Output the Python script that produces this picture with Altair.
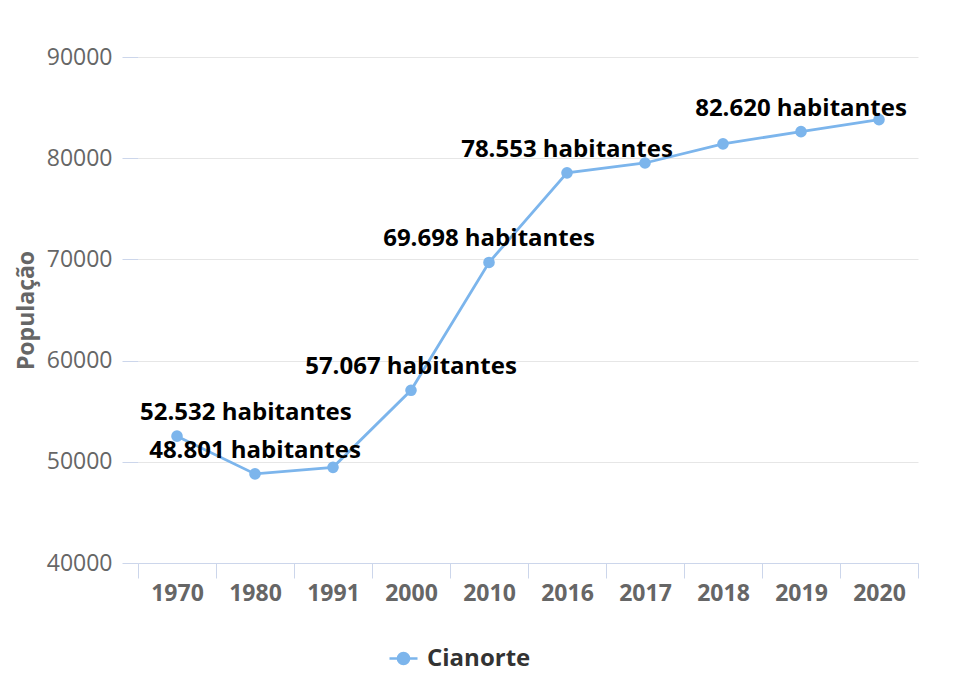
import altair as alt
import pandas as pd

years = ["1970", "1980", "1991", "2000", "2010", "2016", "2017", "2018", "2019", "2020"]
population = [52532, 48801, 49450, 57067, 69698, 78553, 79527, 81421, 82620, 83816]
labels = ["52.532 habitantes", "48.801 habitantes", "", "57.067 habitantes", "69.698 habitantes",
          "78.553 habitantes", "", "", "82.620 habitantes", ""]
series = "Cianorte"

df = pd.DataFrame({"year": years, "pop": population, "label": labels, "series": series})

BLUE = "#7cb5ec"
FONT = "Open Sans"

x_enc = alt.X(
    "year:N", sort=years, title=None,
    scale=alt.Scale(type="band", paddingInner=0, paddingOuter=0),
    axis=alt.Axis(tickBand="extent", domainColor="#ccd6eb", tickColor="#ccd6eb", tickSize=15,
                  labelPadding=4, labelFont=FONT, labelFontSize=23, labelFontWeight="bold",
                  labelColor="#666666", labelAngle=0, grid=False),
)
y_enc = alt.Y(
    "pop:Q", title="População",
    scale=alt.Scale(domain=[40000, 90000], nice=False, zero=False),
    axis=alt.Axis(values=[40000, 50000, 60000, 70000, 80000, 90000], format="d", domain=False,
                  tickColor="#ccd6eb", tickSize=16, labelPadding=10, labelFont=FONT,
                  labelFontSize=23, labelColor="#666666", gridColor="#e6e6e6",
                  titleFont=FONT, titleFontSize=23, titleFontWeight="bold", titleColor="#666666",
                  titlePadding=8),
)

legend_path = "M-1,0L1,0M-0.4,0A0.4,0.4,0,1,1,0.4,0A0.4,0.4,0,1,1,-0.4,0Z"

base = alt.Chart(df)

line = base.mark_line(strokeWidth=2.8).encode(
    x=x_enc, y=y_enc,
    color=alt.Color("series:N", scale=alt.Scale(range=[BLUE]), title=None,
                    legend=alt.Legend(orient="none", legendX=250, legendY=586, direction="horizontal",
                                      symbolType=legend_path, symbolSize=784, symbolStrokeWidth=2.5,
                                      symbolFillColor=BLUE, symbolStrokeColor=BLUE,
                                      labelFont=FONT, labelFontSize=24, labelFontWeight="bold",
                                      labelColor="#333333", labelOffset=8)),
)
points = base.mark_circle(size=135, opacity=1, color=BLUE).encode(x=x_enc, y=y_enc)

text_main = base.transform_filter(
    (alt.datum.label != "") & (alt.datum.year != "1970")
).mark_text(font=FONT, fontSize=24, fontWeight="bold", color="#000000", dy=-23,
            baseline="middle", align="center").encode(x=x_enc, y=y_enc, text="label:N")

text_first = base.transform_filter(alt.datum.year == "1970").mark_text(
    font=FONT, fontSize=24, fontWeight="bold", color="#000000", dy=-23, dx=2,
    baseline="middle", align="left"
).encode(
    x=alt.X("year:N", sort=years, bandPosition=0, scale=alt.Scale(type="band", paddingInner=0, paddingOuter=0)),
    y=y_enc, text="label:N")

chart = alt.layer(line, points, text_main, text_first).properties(
    width=780, height=506,
    autosize=alt.AutoSizeParams(type="none"),
    padding={"left": 130, "top": 49, "right": 50, "bottom": 110},
).configure_view(stroke=None)

chart.save("out.html", embed_options={"renderer": "svg", "actions": False})
